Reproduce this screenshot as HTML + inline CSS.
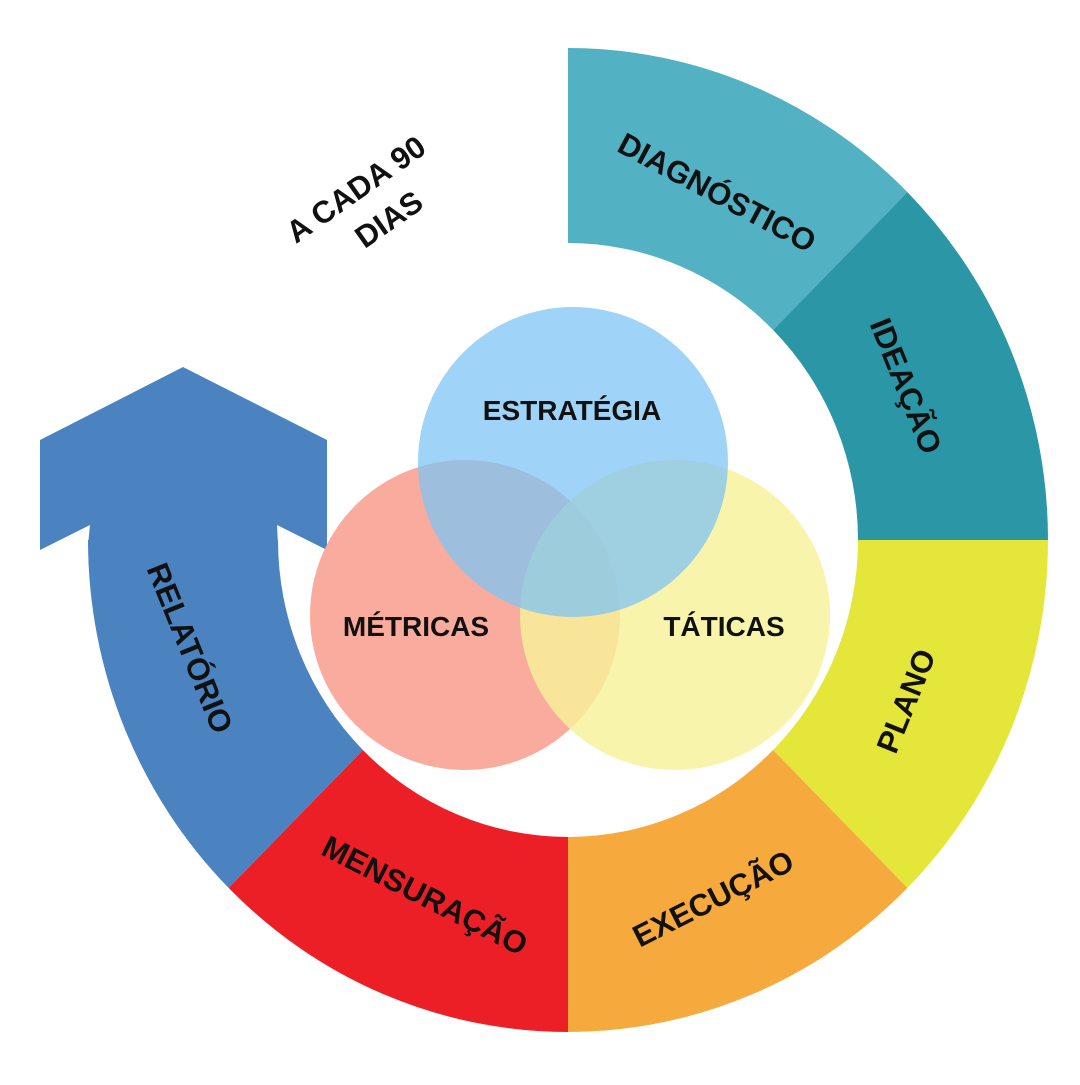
<!DOCTYPE html>
<html><head><meta charset="utf-8"><style>
html,body{margin:0;padding:0;background:#fff;}
svg text{font-family:"Liberation Sans",sans-serif;font-weight:bold;fill:#111;}
</style></head><body>
<svg width="1080" height="1080" viewBox="0 0 1080 1080" xmlns="http://www.w3.org/2000/svg">
<path d="M568,48 A480,492 0 0 1 907.4,192.1 L773.1,330 A290,297 0 0 0 568,243 Z" fill="#52b1c2"/>
<path d="M907.4,192.1 A480,492 0 0 1 1048,540 L858,540 A290,297 0 0 0 773.1,330 Z" fill="#2b97a6"/>
<path d="M1048,540 A480,492 0 0 1 907.4,887.9 L773.1,750 A290,297 0 0 0 858,540 Z" fill="#e5e63a"/>
<path d="M907.4,887.9 A480,492 0 0 1 568,1032 L568,837 A290,297 0 0 0 773.1,750 Z" fill="#f6a93c"/>
<path d="M568,1032 A480,492 0 0 1 228.6,887.9 L362.9,750 A290,297 0 0 0 568,837 Z" fill="#ec1f27"/>
<path d="M228.6,887.9 A480,492 0 0 1 88,540 L278,540 A290,297 0 0 0 362.9,750 Z" fill="#4a83c0"/>
<polygon points="40,550 40,440 183,367 327,440 327,550 277,525 278,545 88,545 90,525" fill="#4a83c0"/>
<circle cx="465" cy="615" r="155" fill="#f9ab9d"/>
<circle cx="675" cy="615" r="155" fill="#f8f198" fill-opacity="0.82"/>
<circle cx="573" cy="462" r="155" fill="#7fc4f4" fill-opacity="0.75"/>
<g font-size="28" text-anchor="middle">
<text x="572" y="420">ESTRATÉGIA</text>
<text x="416" y="636">MÉTRICAS</text>
<text x="724" y="636">TÁTICAS</text>
</g>
<g font-size="31" text-anchor="middle">
<text transform="translate(712,202) rotate(28)">DIAGNÓSTICO</text>
<text transform="translate(896,390) rotate(68)">IDEAÇÃO</text>
<text transform="translate(916,705) rotate(-68)">PLANO</text>
<text transform="translate(718,908) rotate(-27)">EXECUÇÃO</text>
<text transform="translate(420,905) rotate(27)">MENSURAÇÃO</text>
<text transform="translate(180,652) rotate(68)">RELATÓRIO</text>
<text transform="translate(362,198) rotate(-35)">A CADA 90</text>
<text transform="translate(395,228) rotate(-35)">DIAS</text>
</g>
</svg>
</body></html>
